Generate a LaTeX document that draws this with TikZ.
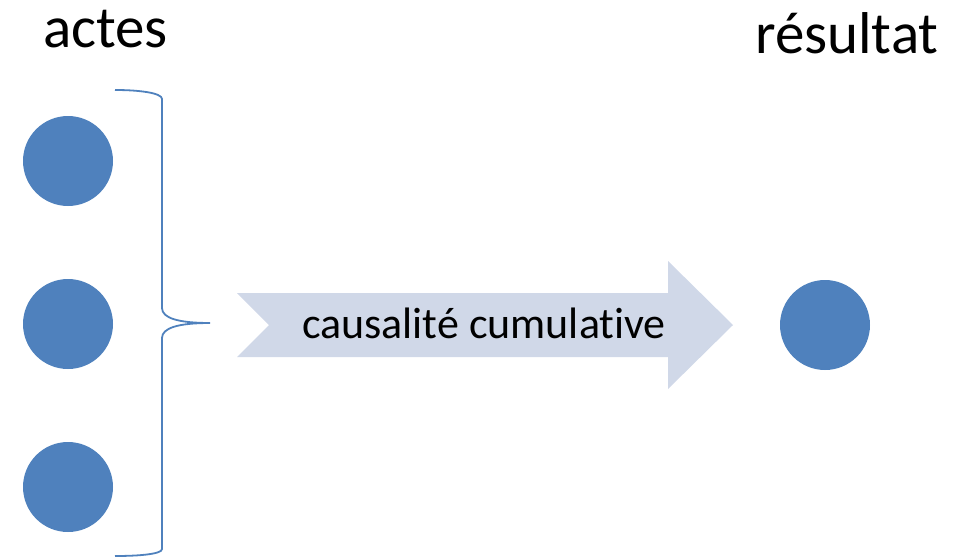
\documentclass[tikz,border=0pt]{standalone}
\usepackage{fontspec}
\setmainfont[Ligatures={NoCommon,NoRare}]{Carlito}
\definecolor{dotblue}{HTML}{4F81BD}
\definecolor{arrowfill}{HTML}{D0D8E8}
\begin{document}
\begin{tikzpicture}[x=1pt,y=-1pt,
  dot/.style={circle,fill=dotblue,minimum size=90pt,inner sep=0pt},
  title/.style={anchor=base west,inner sep=0pt,font=\fontsize{59}{70}\selectfont},
  bracestyle/.style={draw=dotblue,line width=1.8pt}]
\useasboundingbox (0,0) rectangle (972,557);
\node[title] (actes) at (43,47) {actes};
\node[title] (res) at (755,53) {résultat};
\node[dot] (a1) at (68,161) {};
\node[dot] (a2) at (68,324) {};
\node[dot] (a3) at (68,487) {};
\node[dot] (r) at (825,325) {};
\coordinate (btop) at (115,90);
\coordinate (btip) at (210,323);
\coordinate (bbot) at (115,556);
\draw[bracestyle] (btop) .. controls (140,90) and (162,93) .. (162,99) -- (162,308)
  .. controls (162,318) and (178,323) .. (btip)
  .. controls (178,323) and (162,328) .. (162,338) -- (162,549)
  .. controls (162,554) and (140,556) .. (bbot);
\fill[arrowfill] (237,293) -- (668,293) -- (668,261) -- (733,325) -- (668,389) -- (668,357) -- (237,357) -- (269,325) -- cycle;
\node[anchor=base,inner sep=0pt,font=\fontsize{44}{52}\selectfont] (lbl) at (484,338) {causalité cumulative};
\end{tikzpicture}
\end{document}
